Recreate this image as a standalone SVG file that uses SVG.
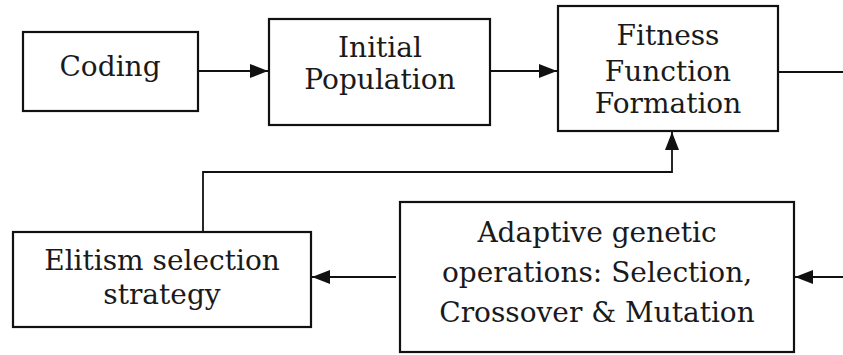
<svg xmlns="http://www.w3.org/2000/svg" width="843" height="355" viewBox="0 0 843 355">
<style>
.box{fill:#fff;stroke:#111;stroke-width:2.2}
.t{font-family:"DejaVu Serif","Liberation Serif",serif;font-size:28px;fill:#1a1a1a;text-anchor:middle}
.c{fill:none;stroke:#111;stroke-width:1.8}
</style>
<defs>
<marker id="ah" viewBox="0 0 18 14" refX="18" refY="7" markerWidth="18" markerHeight="14" markerUnits="userSpaceOnUse" orient="auto">
<path d="M0,0 L18,7 L0,14 z" fill="#111"/>
</marker>
</defs>
<rect width="843" height="355" fill="#fff"/>
<g id="coding"><rect class="box" x="23" y="32" width="175" height="79"/><text class="t" x="110" y="76">Coding</text></g>
<g id="initial"><rect class="box" x="269" y="19" width="221" height="106"/><text class="t" x="380" y="57">Initial</text><text class="t" x="380" y="89">Population</text></g>
<g id="fitness"><rect class="box" x="558" y="6" width="220" height="125"/><text class="t" x="668" y="45">Fitness</text><text class="t" x="668" y="81">Function</text><text class="t" x="668" y="113">Formation</text></g>
<g id="elitism"><rect class="box" x="13" y="232" width="298" height="95"/><text class="t" x="162" y="270">Elitism selection</text><text class="t" x="162" y="304">strategy</text></g>
<g id="adaptive"><rect class="box" x="400" y="202" width="394" height="150"/><text class="t" x="597" y="242">Adaptive genetic</text><text class="t" x="597" y="282">operations: Selection,</text><text class="t" x="597" y="322">Crossover &amp; Mutation</text></g>
<g id="connectors">
<line class="c" x1="198" y1="71" x2="268" y2="71" marker-end="url(#ah)"/>
<line class="c" x1="490" y1="71" x2="557" y2="71" marker-end="url(#ah)"/>
<line class="c" x1="778" y1="72" x2="843" y2="72"/>
<polyline class="c" points="203,232 203,172 672,172 672,132" marker-end="url(#ah)"/>
<line class="c" x1="396" y1="277" x2="312" y2="277" marker-end="url(#ah)"/>
<line class="c" x1="843" y1="277" x2="795" y2="277" marker-end="url(#ah)"/>
</g>
</svg>
